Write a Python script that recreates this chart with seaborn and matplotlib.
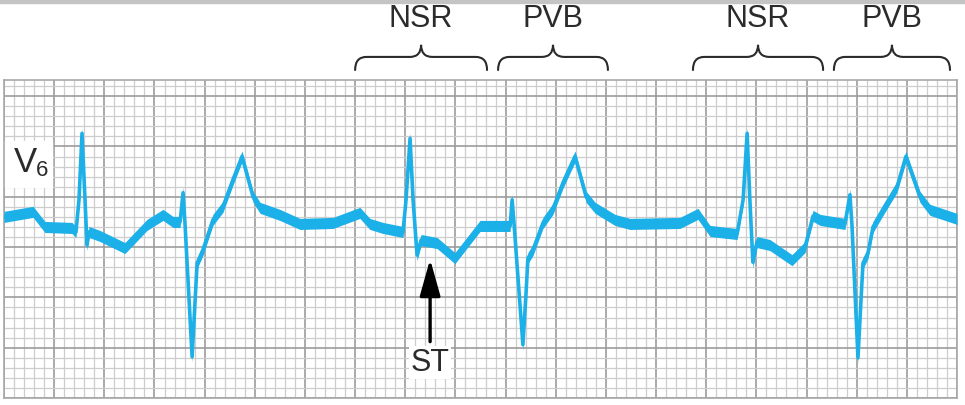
import numpy as np
import pandas as pd
import matplotlib
matplotlib.use("Agg")
import matplotlib.pyplot as plt
import seaborn as sns
from matplotlib.path import Path
from matplotlib.patches import PathPatch, Rectangle

# lead V6 trace (seconds, mV relative to baseline)
time_s = [0.000, 0.116, 0.163, 0.271, 0.287, 0.299, 0.311, 0.323, 0.331, 0.339,
          0.383, 0.482, 0.570, 0.634, 0.674, 0.702, 0.714, 0.722, 0.750, 0.762,
          0.770, 0.793, 0.833, 0.873, 0.913, 0.949, 0.993, 1.021, 1.100, 1.180,
          1.312, 1.419, 1.459, 1.511, 1.591, 1.603, 1.619, 1.631, 1.647, 1.663,
          1.727, 1.798, 1.898, 2.018, 2.026, 2.034, 2.069, 2.081, 2.089, 2.109,
          2.149, 2.189, 2.229, 2.277, 2.321, 2.357, 2.436, 2.496, 2.695, 2.767,
          2.815, 2.923, 2.947, 2.963, 2.974, 2.986, 3.002, 3.054, 3.142, 3.194,
          3.226, 3.254, 3.353, 3.373, 3.381, 3.405, 3.417, 3.425, 3.445, 3.465,
          3.505, 3.561, 3.596, 3.652, 3.692, 3.800]
mv = [0.08, 0.13, -0.02, -0.03, -0.07, 0.25, 0.91, 0.25, -0.20, -0.07,
      -0.11, -0.23, 0.00, 0.10, 0.03, 0.03, 0.32, 0.00, -1.31, -0.75,
      -0.38, -0.25, 0.05, 0.18, 0.45, 0.68, 0.28, 0.17, 0.10, 0.01,
      0.02, 0.12, 0.01, -0.03, -0.07, 0.25, 0.86, 0.25, -0.30, -0.15,
      -0.18, -0.33, -0.01, -0.01, 0.25, 0.00, -1.19, -0.70, -0.33, -0.25,
      0.02, 0.16, 0.42, 0.68, 0.28, 0.17, 0.05, 0.01, 0.02, 0.11,
      -0.06, -0.09, 0.25, 0.91, 0.25, -0.37, -0.17, -0.20, -0.35, -0.22,
      0.09, 0.05, 0.01, 0.30, 0.00, -1.32, -0.75, -0.38, -0.28, -0.02,
      0.15, 0.38, 0.68, 0.28, 0.15, 0.06]

beat_labels = ["NSR", "PVB", "NSR", "PVB"]
brace_start = [1.400, 1.970, 2.747, 3.309]
brace_end = [1.926, 2.408, 3.266, 3.772]

st_time = 1.699
st_level = -0.33

TRACE = "#1cb0e9"
INK = "#2b2b2b"


def brace(ax, x0, x1, y_end=1.54, y_mid=1.67, y_tip=1.79, dx=0.045):
    xm = (x0 + x1) / 2
    verts = [(x0, y_end), (x0, y_mid), (x0 + dx, y_mid),
             (xm - dx, y_mid), (xm, y_mid), (xm, y_tip),
             (xm, y_mid), (xm + dx, y_mid),
             (x1 - dx, y_mid), (x1, y_mid), (x1, y_end)]
    codes = [Path.MOVETO, Path.CURVE3, Path.CURVE3,
             Path.LINETO, Path.CURVE3, Path.CURVE3,
             Path.CURVE3, Path.CURVE3,
             Path.LINETO, Path.CURVE3, Path.CURVE3]
    ax.add_patch(PathPatch(Path(verts, codes), fill=False, ec=INK, lw=1.5,
                           clip_on=False, capstyle="round"))


def main():
    sns.set_style("white")
    plt.rcParams["font.family"] = ["Liberation Sans", "DejaVu Sans"]

    df = pd.DataFrame({"time": time_s, "mv": mv})

    fig = plt.figure(figsize=(9.65, 4.05), dpi=100)
    fig.patches.append(Rectangle((0, 0.993), 1, 0.007, transform=fig.transFigure,
                                 color="#c4c4c4", zorder=0))
    ax = fig.add_axes([0.00415, 0.0173, 0.9876, 0.785])

    x_lo, x_hi = 0.0, 3.80
    y_lo, y_hi = -1.72, 1.44
    ax.set_xlim(x_lo, x_hi)
    ax.set_ylim(y_lo, y_hi)

    # ECG paper: 0.04 s / 0.1 mV small boxes, 0.2 s / 0.5 mV large boxes
    ax.set_xticks(np.arange(x_lo, x_hi + 0.001, 0.2))
    ax.set_xticks(np.arange(x_lo, x_hi + 0.001, 0.04), minor=True)
    ax.set_yticks(np.arange(y_lo, y_hi + 0.001, 0.5))
    ax.set_yticks(np.arange(y_lo, y_hi + 0.001, 0.1), minor=True)
    ax.grid(which="minor", color="#cdcdcd", lw=0.9)
    ax.grid(which="major", color="#9c9c9c", lw=1.2)
    ax.set_axisbelow(True)
    ax.tick_params(which="both", length=0, labelbottom=False, labelleft=False)
    for s in ax.spines.values():
        s.set_color("#a8a8a8")
        s.set_linewidth(1.2)

    # thick pen trace
    ax.fill_between(df["time"], df["mv"] - 0.055, df["mv"] + 0.055,
                    color=TRACE, lw=0, zorder=3)
    sns.lineplot(data=df, x="time", y="mv", ax=ax, color=TRACE, lw=2.6,
                 estimator=None, sort=False, zorder=4)
    ax.set_xlabel("")
    ax.set_ylabel("")

    # lead label
    ax.add_patch(Rectangle((0.0, 0.38), 0.19, 0.45, color="white", zorder=2))
    ax.text(0.084, 0.62, "V", fontsize=25, color=INK, ha="center", va="center", zorder=5)
    ax.text(0.152, 0.54, "6", fontsize=16, color=INK, ha="center", va="center", zorder=5)

    # rhythm braces
    for lab, a, b in zip(beat_labels, brace_start, brace_end):
        brace(ax, a, b)
        ax.text((a + b) / 2, 2.05, lab, fontsize=22, color=INK,
                ha="center", va="center", clip_on=False)

    # ST segment arrow
    ax.annotate("", xy=(st_time, st_level - 0.01), xytext=(st_time, -1.16),
                arrowprops=dict(arrowstyle="-|>,head_length=1.5,head_width=0.42",
                                mutation_scale=15, color="black", lw=2.4,
                                shrinkA=0, shrinkB=0), zorder=6)
    ax.text(st_time, -1.37, "ST", fontsize=22, color=INK, ha="center", va="center",
            zorder=6, bbox=dict(boxstyle="square,pad=0.05", fc="white", ec="none"))

    fig.savefig("out.png", dpi=100)


if __name__ == "__main__":
    main()
